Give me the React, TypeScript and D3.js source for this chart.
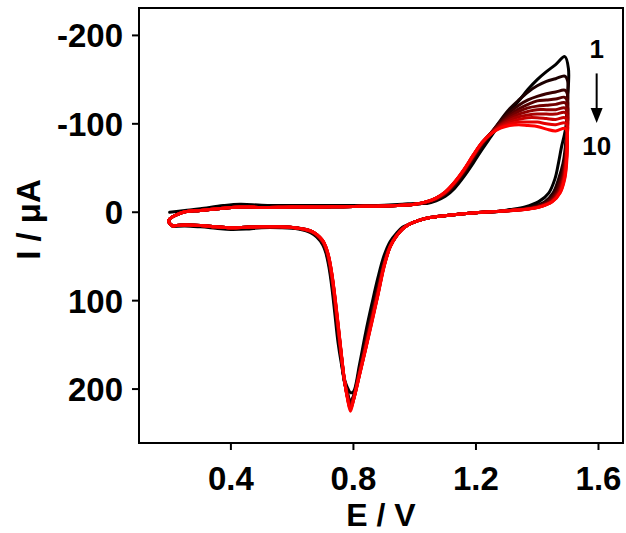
import React from "react";
import * as d3 from "d3";

// ---------- data (E in V, I in µA; negative = anodic, plotted upward) ----------
const cycles = [1, 2, 3, 4, 5, 6, 7, 8, 9, 10];

const xTicks = [0.4, 0.8, 1.2, 1.6];
const yTicks = [-200, -100, 0, 100, 200];

// start of cycle 1 and turning corner at 0.2 V used by cycles 2..10
const startFirst: [number, number][] = [[0.2, 0]];
const turnE = [0.21, 0.198, 0.199, 0.222];
const turnI = [15.5, 11.5, 8, 3];

// forward scan, flat region
const fwdE = [0.25, 0.3, 0.375, 0.43, 0.5, 0.6, 0.7, 0.8, 0.9, 0.96, 1.0];
const fwdIFirst = [-2, -4, -7.5, -9, -8, -7.5, -7.5, -7.5, -8, -9, -10];
const fwdILater = [-0.5, -2, -4.5, -6, -5.5, -6, -6, -6.5, -7, -8, -9];

// forward scan, oxidation wave and top
const anodicE = [1.04, 1.07, 1.1, 1.13, 1.16, 1.19, 1.22, 1.25, 1.28, 1.31, 1.34, 1.37, 1.4, 1.43, 1.46, 1.49];
const anodicI = [
  [-10, -13, -18, -27, -40, -55, -71, -86, -101, -114, -126, -139, -150, -159, -167, -176],
  [-11, -14, -20, -30, -43, -59, -75, -89, -104, -117, -127, -136, -143, -148, -151, -154],
  [-11, -15, -21, -31, -45, -61, -77, -90, -103, -113, -121, -127, -131, -134, -136, -138],
  [-11, -15, -21, -32, -46, -62, -78, -90, -101, -110, -117, -122, -126, -127, -128, -130],
  [-12, -15, -22, -33, -46, -62, -78, -90, -100, -108, -114, -118, -120, -121, -122, -124],
  [-12, -16, -22, -33, -47, -63, -78, -90, -99, -106, -111, -114, -116, -116, -116, -118],
  [-12, -16, -22, -33, -47, -63, -79, -89, -98, -104, -108, -110, -111, -111, -111, -113],
  [-12, -16, -23, -34, -47, -64, -79, -89, -97, -102, -105, -107, -107, -106, -105, -107],
  [-12, -16, -23, -34, -48, -64, -79, -89, -96, -100, -102, -102, -102, -100, -99, -101],
  [-12, -16, -23, -34, -48, -64, -79, -89, -95, -98, -99, -98, -97, -94, -92, -95],
];

// reverse scan: turning at the switching potential
const revTurnE = [
  [1.502, 1.499, 1.495, 1.487],
  [1.499, 1.497, 1.495],
  [1.499, 1.497, 1.496],
  [1.499, 1.497],
  [1.499, 1.498],
  [1.499, 1.498],
  [1.499, 1.498],
  [1.499, 1.498],
  [1.499, 1.498],
  [1.498, 1.498],
];
const revTurnI = [
  [-162, -128, -100, -85],
  [-149, -120, -95],
  [-133, -110, -90],
  [-125, -100],
  [-119, -97],
  [-113, -94],
  [-108, -92],
  [-102, -89],
  [-97, -87],
  [-91, -84],
];

// reverse scan: potentials at given current levels
const revLevels = [-75, -55, -38, -22, -12, -6, -3];
const revE = [
  [1.48, 1.469, 1.458, 1.438, 1.405, 1.36, 1.31],
  [1.492, 1.484, 1.47, 1.452, 1.425, 1.38, 1.33],
  [1.494, 1.488, 1.476, 1.458, 1.432, 1.39, 1.34],
  [1.495, 1.49, 1.479, 1.462, 1.436, 1.395, 1.345],
  [1.496, 1.491, 1.482, 1.465, 1.44, 1.4, 1.35],
  [1.497, 1.492, 1.484, 1.468, 1.443, 1.403, 1.352],
  [1.497, 1.493, 1.486, 1.47, 1.446, 1.405, 1.355],
  [1.498, 1.494, 1.487, 1.472, 1.448, 1.407, 1.357],
  [1.498, 1.495, 1.489, 1.474, 1.449, 1.409, 1.359],
  [1.498, 1.496, 1.49, 1.475, 1.45, 1.41, 1.36],
];

// reverse scan tail before the reduction peak
const tailE = [1.28, 1.2, 1.12, 1.05, 1.02, 1.0, 0.98];
const tailI = [-1.2, 0.5, 3, 6, 8.5, 11, 14];

// reduction peak region
const cathE = [0.96, 0.94, 0.92, 0.9, 0.88, 0.86, 0.84, 0.82, 0.8, 0.79, 0.78, 0.77, 0.76, 0.75, 0.74, 0.73, 0.72, 0.71, 0.7, 0.68, 0.66];
const cathI = [
  [17, 24, 33, 49, 74, 104, 136, 172, 203, 204, 198, 188, 170, 148, 117, 86, 62, 46, 37, 28, 23],
  [18, 26, 37, 55, 83, 113, 144, 177, 208, 214, 203, 191, 165, 139, 109, 80, 58, 44, 35, 27, 22],
  [18, 26, 37, 57, 86, 116, 147, 179, 209, 216, 205, 190, 163, 136, 106, 77, 56, 42, 34, 26, 22],
  [18, 27, 38, 58, 88, 118, 149, 180, 210, 218, 206, 190, 162, 134, 104, 76, 55, 42, 34, 26, 22],
  [19, 27, 38, 59, 89, 120, 151, 181, 211, 219, 207, 189, 161, 132, 102, 74, 54, 41, 33, 26, 21],
  [19, 27, 39, 60, 91, 121, 152, 182, 211, 220, 208, 189, 160, 130, 100, 73, 53, 40, 33, 25, 21],
  [19, 27, 39, 60, 92, 122, 153, 183, 212, 221, 208, 189, 160, 129, 99, 72, 52, 40, 33, 25, 21],
  [19, 27, 39, 61, 93, 123, 154, 183, 212, 222, 209, 188, 159, 128, 98, 71, 52, 40, 32, 25, 21],
  [19, 27, 39, 61, 93, 124, 154, 184, 213, 223, 209, 188, 159, 127, 97, 71, 51, 39, 32, 25, 21],
  [19, 27, 39, 62, 94, 125, 155, 184, 213, 225, 210, 188, 158, 126, 96, 70, 51, 39, 32, 25, 21],
];

// reverse scan, low-potential region
const lowE = [0.62, 0.56, 0.5, 0.45, 0.4, 0.35, 0.3, 0.25, 0.21];
const lowIFirst = [19, 17.5, 17.5, 19, 19.5, 18, 16.5, 15.5, 16];
const lowILater = [18, 16.5, 16.5, 17, 17.5, 16.5, 15, 14.5, 15.5];

// ---------- layout ----------
const W = 626;
const H = 533;
const frame = { left: 139, right: 623, top: 8, bottom: 443 };
const FONT = "'Liberation Sans', Arial, Helvetica, sans-serif";

const xScale = d3.scaleLinear().domain([0.1, 1.68]).range([frame.left, frame.right]);
const yScale = d3.scaleLinear().domain([-231, 261]).range([frame.top, frame.bottom]);

function cyclePoints(k: number): [number, number][] {
  const pts: [number, number][] = [];
  if (k === 0) startFirst.forEach((p) => pts.push(p));
  else turnE.forEach((e, i) => pts.push([e, turnI[i]]));
  const fI = k === 0 ? fwdIFirst : fwdILater;
  fwdE.forEach((e, i) => pts.push([e, fI[i]]));
  anodicE.forEach((e, i) => pts.push([e, anodicI[k][i]]));
  revTurnE[k].forEach((e, i) => pts.push([e, revTurnI[k][i]]));
  revLevels.forEach((lv, i) => pts.push([revE[k][i], lv]));
  tailE.forEach((e, i) => pts.push([e, tailI[i]]));
  cathE.forEach((e, i) => pts.push([e, cathI[k][i]]));
  const lI = k === 0 ? lowIFirst : lowILater;
  lowE.forEach((e, i) => pts.push([e, lI[i]]));
  return pts;
}

const line = d3
  .line<[number, number]>()
  .x((d) => xScale(d[0]))
  .y((d) => yScale(d[1]))
  .curve(d3.curveCatmullRom.alpha(0.5));

const color = d3.interpolateRgb("#000000", "#ff0000");

export default function App() {
  const tickLen = 7;
  const arrowX = xScale(1.594);
  return (
    <div style={{ position: "absolute", left: 0, top: 0 }}>
      <svg width={W} height={H} style={{ display: "block", background: "#fff" }}>
        <defs>
          <clipPath id="plotclip">
            <rect x={frame.left} y={frame.top} width={frame.right - frame.left} height={frame.bottom - frame.top} />
          </clipPath>
        </defs>
        <g clipPath="url(#plotclip)">
          {cycles.map((c, k) => (
            <path
              key={c}
              d={line(cyclePoints(k)) || ""}
              fill="none"
              stroke={color(k / (cycles.length - 1))}
              strokeWidth={3}
              strokeLinejoin="round"
              strokeLinecap="round"
            />
          ))}
        </g>
        <rect
          x={frame.left}
          y={frame.top}
          width={frame.right - frame.left}
          height={frame.bottom - frame.top}
          fill="none"
          stroke="#000"
          strokeWidth={2}
        />
        {xTicks.map((t) => (
          <g key={"x" + t}>
            <line x1={xScale(t)} x2={xScale(t)} y1={frame.bottom} y2={frame.bottom + tickLen} stroke="#000" strokeWidth={2} />
            <text
              x={xScale(t)}
              y={490}
              textAnchor="middle"
              fontFamily={FONT}
              fontWeight="bold"
              fontSize={33}
            >
              {t.toFixed(1)}
            </text>
          </g>
        ))}
        {yTicks.map((t) => (
          <g key={"y" + t}>
            <line x1={frame.left - tickLen} x2={frame.left} y1={yScale(t)} y2={yScale(t)} stroke="#000" strokeWidth={2} />
            <text
              x={123}
              y={yScale(t)}
              dy="0.36em"
              textAnchor="end"
              fontFamily={FONT}
              fontWeight="bold"
              fontSize={33}
            >
              {t}
            </text>
          </g>
        ))}
        <text
          x={381}
          y={526}
          textAnchor="middle"
          fontFamily={FONT}
          fontWeight="bold"
          fontSize={32}
        >
          E / V
        </text>
        <text
          transform="translate(39.5, 219.5) rotate(-90)"
          textAnchor="middle"
          fontFamily={FONT}
          fontWeight="bold"
          fontSize={33}
        >
          I / μA
        </text>
        <text x={arrowX} y={yScale(-174)} textAnchor="middle" fontFamily={FONT} fontWeight="bold" fontSize={26}>
          1
        </text>
        <line x1={arrowX} x2={arrowX} y1={yScale(-157)} y2={yScale(-112)} stroke="#000" strokeWidth={2} />
        <path
          d={`M${arrowX - 6},${yScale(-118)} L${arrowX + 6},${yScale(-118)} L${arrowX},${yScale(-101)} Z`}
          fill="#000"
        />
        <text x={arrowX} y={yScale(-65)} textAnchor="middle" fontFamily={FONT} fontWeight="bold" fontSize={26}>
          10
        </text>
      </svg>
    </div>
  );
}
